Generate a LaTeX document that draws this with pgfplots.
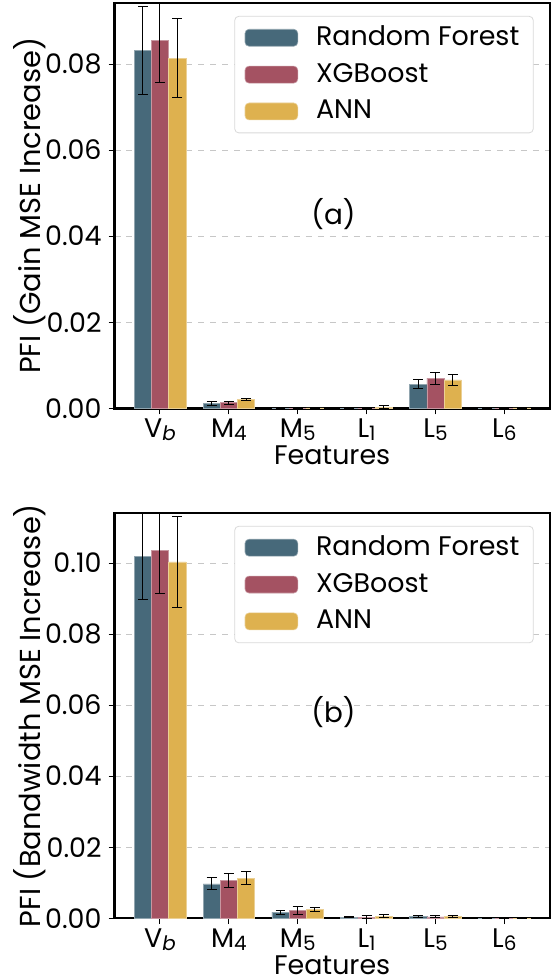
\documentclass[border=0pt]{standalone}
\usepackage{fontspec}
\setmainfont{Poppins}
\usepackage{pgfplots}
\usepackage{pgfplotstable}
\pgfplotsset{compat=1.18}
\definecolor{rfc}{HTML}{47697A}
\definecolor{xgc}{HTML}{A45262}
\definecolor{anc}{HTML}{DEB14F}

\pgfplotstableread{
x rf rfe xg xge an ane
0 0.0831 0.0102 0.0855 0.0098 0.0814 0.0091
1 0.0011 0.0004 0.0013 0.0003 0.0021 0.0003
2 0.00005 0.00002 0.00005 0.00002 0.0001 0.00003
3 0.00002 0.00001 0.00005 0.00005 0.0003 0.0003
4 0.0056 0.0011 0.0070 0.0014 0.0066 0.0013
5 0.00001 0.00001 0.00002 0.00002 0.0001 0.00005
}\gaintab

\pgfplotstableread{
x rf rfe xg xge an ane
0 0.1018 0.0121 0.1036 0.0123 0.1003 0.0128
1 0.0097 0.0017 0.0106 0.0019 0.0113 0.0018
2 0.0017 0.0006 0.0022 0.0011 0.0024 0.0006
3 0.0003 0.0002 0.0003 0.0004 0.0006 0.0004
4 0.0006 0.0003 0.0004 0.0003 0.0005 0.0003
5 0.00002 0.00002 0.00002 0.00002 0.00002 0.00002
}\bwtab

\newcommand{\sub}[1]{\raisebox{-1.6pt}{\fontsize{10}{10}\selectfont #1}}

\pgfplotsset{
  pfistyle/.style={
    scale only axis, width=218.5pt, height=203.5pt,
    xmin=-0.66, xmax=5.66, ymin=0,
    ybar,
    xtick={0,1,2,3,4,5},
    xticklabels={V\sub{\textit{b}}, M\sub{4}, M\sub{5}, L\sub{1}, L\sub{5}, L\sub{6}},
    xtick pos=bottom, ytick pos=left,
    tick align=outside, major tick length=3pt,
    tick style={black, line width=0.5pt},
    axis line style={line width=1.2pt},
    ymajorgrids, grid style={dashed, black!22, line width=0.5pt},
    scaled y ticks=false,
    yticklabel style={/pgf/number format/.cd, fixed, fixed zerofill, precision=2},
    /pgf/number format/assume math mode=true,
    ticklabel style={font=\fontsize{13.5}{15}\selectfont},
    xticklabel style={inner ysep=0.5pt, yshift=-1.5pt},
    label style={font=\fontsize{13.5}{16}\selectfont},
    xlabel={Features},
    xlabel style={at={(axis description cs:0.5,0)}, anchor=center, inner sep=0pt, yshift=-23.5pt},
    ylabel style={at={(axis description cs:-0.1945,0.5)}, anchor=center, font=\fontsize{14.5}{16}\selectfont},
    error bars/error bar style={line width=0.5pt, black},
    error bars/error mark options={rotate=90, mark size=2.5pt, line width=0.5pt, black},
    legend style={at={(0.963,0.968)}, anchor=north east, draw=black!15,
      rounded corners=2pt, fill=white, font=\fontsize{13.5}{15}\selectfont,
      inner xsep=5pt, inner ysep=4pt, row sep=5pt,
      nodes={inner ysep=1pt, text height=9.5pt, text depth=2pt}},
    legend cell align=left,
    legend image code/.code={\fill[##1] (0pt,-4.25pt) rectangle (26.5pt,4.25pt);},
    /tikz/every odd column/.append style={column sep=7pt},
  },
  rfbar/.style={fill=rfc, draw=rfc!60!white, line width=0.3pt, bar width=0.25, bar shift=-0.25},
  xgbar/.style={fill=xgc, draw=xgc!60!white, line width=0.3pt, bar width=0.25, bar shift=0},
  anbar/.style={fill=anc, draw=anc!60!white, line width=0.3pt, bar width=0.25, bar shift=0.25},
}

\begin{document}
\begin{tikzpicture}
\begin{axis}[pfistyle, at={(0pt,0pt)}, anchor=south west,
  ymax=0.0942, ytick={0,0.02,0.04,0.06,0.08},
  ylabel={PFI (Gain MSE Increase)}]
\addplot[rfbar, error bars/.cd, y dir=both, y explicit] table[x=x, y=rf, y error=rfe] {\gaintab};
\addplot[xgbar, error bars/.cd, y dir=both, y explicit] table[x=x, y=xg, y error=xge] {\gaintab};
\addplot[anbar, error bars/.cd, y dir=both, y explicit] table[x=x, y=an, y error=ane] {\gaintab};
\legend{Random Forest, XGBoost, ANN}
\node[font=\fontsize{14}{16}\selectfont] at (rel axis cs:0.503,0.479) {(a)};
\end{axis}
\begin{axis}[pfistyle, at={(0pt,-256pt)}, anchor=south west,
  ymax=0.1141, ytick={0,0.02,0.04,0.06,0.08,0.10},
  ylabel={PFI (Bandwidth MSE Increase)}]
\addplot[rfbar, error bars/.cd, y dir=both, y explicit] table[x=x, y=rf, y error=rfe] {\bwtab};
\addplot[xgbar, error bars/.cd, y dir=both, y explicit] table[x=x, y=xg, y error=xge] {\bwtab};
\addplot[anbar, error bars/.cd, y dir=both, y explicit] table[x=x, y=an, y error=ane] {\bwtab};
\legend{Random Forest, XGBoost, ANN}
\node[font=\fontsize{14}{16}\selectfont] at (rel axis cs:0.503,0.509) {(b)};
\end{axis}
\pgfresetboundingbox
\path (-57.5pt,-287pt) rectangle (219.5pt,205pt);
\end{tikzpicture}
\end{document}
